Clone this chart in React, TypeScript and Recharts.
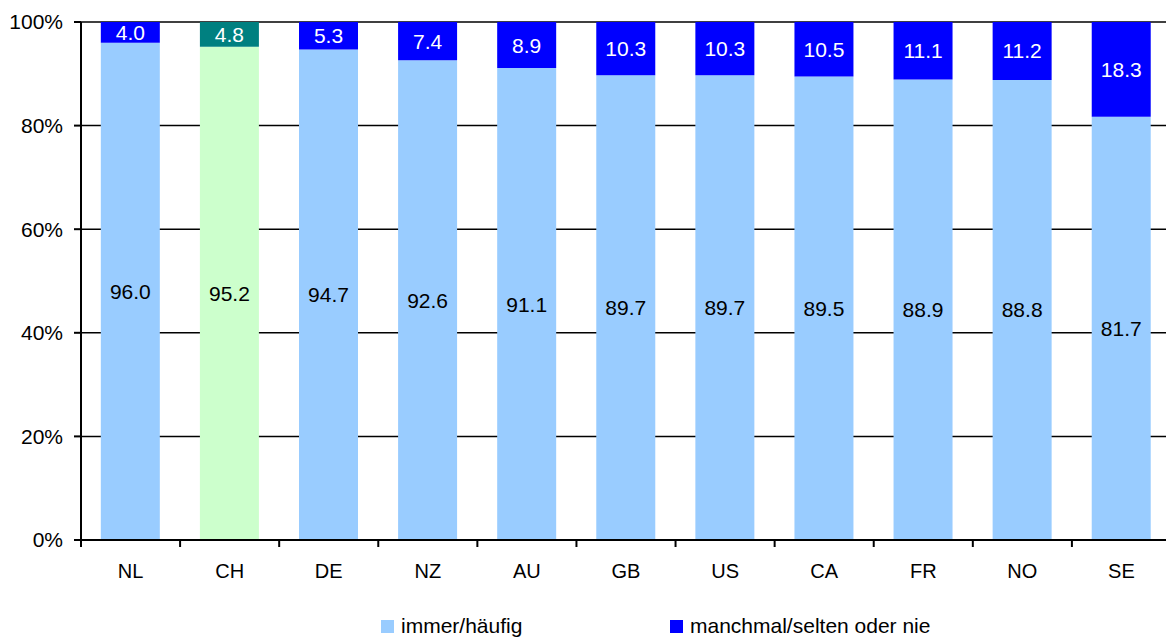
import React from "react";
import {
  BarChart,
  Bar,
  XAxis,
  YAxis,
  CartesianGrid,
  LabelList,
  Cell,
} from "recharts";

const COUNTRIES = ["NL", "CH", "DE", "NZ", "AU", "GB", "US", "CA", "FR", "NO", "SE"];
const OFTEN = [96.0, 95.2, 94.7, 92.6, 91.1, 89.7, 89.7, 89.5, 88.9, 88.8, 81.7];
const RARELY = [4.0, 4.8, 5.3, 7.4, 8.9, 10.3, 10.3, 10.5, 11.1, 11.2, 18.3];
const Y_TICKS = [0, 20, 40, 60, 80, 100];
const SERIES_NAMES = ["immer/häufig", "manchmal/selten oder nie"];
const HIGHLIGHT = "CH";

const LIGHT = "#99CCFF";
const DARK = "#0000FF";
const HL_LIGHT = "#CCFFCC";
const HL_DARK = "#008080";

const FONT = "'Liberation Sans', Arial, sans-serif";
const CHART_W = 1180;
const CHART_H = 600;
const PLOT_BOTTOM = 540;
const MARGIN = { top: 22, right: 9, left: 0, bottom: 0 };
const Y_W = 81;
const CAT_W = (CHART_W - MARGIN.right - Y_W) / COUNTRIES.length;

const data = COUNTRIES.map((c, i) => ({
  country: c,
  often: OFTEN[i],
  rarely: RARELY[i],
}));

const fmt = (v: any) => Number(v).toFixed(1);

function XTick(props: any) {
  const { x, y, payload, index } = props;
  return (
    <g>
      <line x1={x - CAT_W / 2} x2={x - CAT_W / 2} y1={y} y2={y + 7} stroke="#000" strokeWidth={2} />
      {index === COUNTRIES.length - 1 && (
        <line x1={x + CAT_W / 2} x2={x + CAT_W / 2} y1={y} y2={y + 7} stroke="#000" strokeWidth={2} />
      )}
      <text x={x} y={y + 38} textAnchor="middle" fontSize={20} fill="#000" fontFamily={FONT}>
        {payload.value}
      </text>
    </g>
  );
}

export default function App() {
  return (
    <div
      style={{
        position: "absolute",
        left: 0,
        top: 0,
        width: 1166,
        height: 642,
        overflow: "hidden",
        background: "#fff",
        fontFamily: FONT,
      }}
    >
      <BarChart width={CHART_W} height={CHART_H} data={data} margin={MARGIN} barCategoryGap="20%">
        <CartesianGrid horizontal vertical={false} stroke="#000" strokeWidth={1.5} />
        <XAxis
          dataKey="country"
          height={CHART_H - PLOT_BOTTOM}
          tickLine={false}
          tickSize={0}
          tickMargin={0}
          axisLine={{ stroke: "#000", strokeWidth: 2 }}
          tick={<XTick />}
          interval={0}
        />
        <YAxis
          width={Y_W}
          domain={[0, 100]}
          ticks={Y_TICKS}
          tickFormatter={(v) => `${v}%`}
          tickSize={7}
          tickMargin={11}
          tickLine={{ stroke: "#000", strokeWidth: 2 }}
          axisLine={{ stroke: "#000", strokeWidth: 2 }}
          tick={{ fill: "#000", fontSize: 21, fontFamily: FONT }}
        />
        <Bar dataKey="often" stackId="a" isAnimationActive={false}>
          {data.map((d) => (
            <Cell key={d.country} fill={d.country === HIGHLIGHT ? HL_LIGHT : LIGHT} />
          ))}
          <LabelList
            dataKey="often"
            position="center"
            formatter={fmt}
            fill="#000"
            fontSize={21}
            fontFamily={FONT}
          />
        </Bar>
        <Bar dataKey="rarely" stackId="a" isAnimationActive={false}>
          {data.map((d) => (
            <Cell key={d.country} fill={d.country === HIGHLIGHT ? HL_DARK : DARK} />
          ))}
          <LabelList
            dataKey="rarely"
            position="center"
            formatter={fmt}
            fill="#fff"
            fontSize={21}
            fontFamily={FONT}
          />
        </Bar>
      </BarChart>
      {SERIES_NAMES.map((name, i) => (
        <div
          key={name}
          style={{
            position: "absolute",
            left: i === 0 ? 381 : 670,
            top: 614,
            display: "flex",
            alignItems: "flex-end",
            fontSize: 21,
            color: "#000",
            lineHeight: "24px",
            whiteSpace: "nowrap",
          }}
        >
          <span
            style={{
              display: "inline-block",
              width: 13,
              height: 13,
              background: i === 0 ? LIGHT : DARK,
              marginRight: 7,
              marginBottom: 5,
            }}
          />
          {name}
        </div>
      ))}
    </div>
  );
}
